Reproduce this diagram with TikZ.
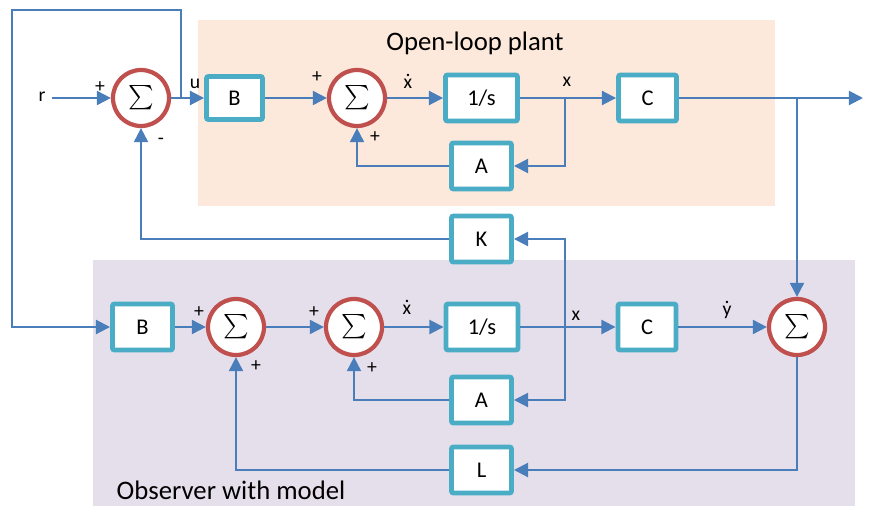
\documentclass[tikz,border=0pt]{standalone}
\usepackage{exscale}
\usepackage{fontspec}
\setmainfont{Carlito}
\usetikzlibrary{arrows.meta}

\definecolor{plantbg}{RGB}{252,233,219}
\definecolor{obsbg}{RGB}{229,223,236}
\definecolor{wireblue}{RGB}{74,126,187}
\definecolor{blockcyan}{RGB}{75,172,198}
\definecolor{sumred}{RGB}{192,80,77}

% letter with a dot on top (time derivative)
\newcommand{\dotsig}[1]{\ooalign{#1\cr\hidewidth\raisebox{0.62em}{.}\hidewidth\cr}}

\begin{document}
\begin{tikzpicture}[x=0.025cm, y=-0.025cm,
    block/.style={draw=blockcyan, line width=3.5pt, fill=white, rounded corners=1.5pt,
        minimum width=1.5cm, minimum height=1.15cm, font=\fontsize{16}{16}\selectfont},
    sumnode/.style={circle, draw=sumred, line width=3pt, fill=white,
        minimum size=1.4cm, inner sep=0pt, font=\fontsize{18}{18}\selectfont},
    wire/.style={draw=wireblue, line width=1.4pt, -{Triangle[length=10pt,width=10pt]}},
    sig/.style={font=\fontsize{14}{14}\selectfont}]

    % Fix the page size
    \useasboundingbox (0,0) rectangle (876,506);

    % Shaded regions
    \fill[plantbg] (198,20) rectangle (775,206);
    \fill[obsbg] (93,260) rectangle (855,506);
    \node at (475,43) [font=\fontsize{19}{19}\selectfont] {Open-loop plant};
    \node at (231,490) [font=\fontsize{19}{19}\selectfont] {Observer with model};

    % Plant row
    \node[sumnode] (S1) at (141,98) {$\sum$};
    \node[block, minimum width=1.4cm, minimum height=1.075cm] (B1) at (234.5,98) {B};
    \node[sumnode] (S2) at (357,98) {$\sum$};
    \node[block, minimum width=1.8cm] (I1) at (481.5,98) {1/s};
    \node[block, minimum width=1.45cm] (C1) at (647.5,98) {C};
    \node[block] (A1) at (481.5,166) {A};
    \node[block] (K) at (481.5,239) {K};

    % Observer row
    \node[block] (B2) at (142.5,327) {B};
    \node[sumnode] (S3) at (236,327) {$\sum$};
    \node[sumnode] (S4) at (354,327) {$\sum$};
    \node[block, minimum width=1.8cm] (I2) at (482,327) {1/s};
    \node[block, minimum width=1.45cm] (C2) at (647,327) {C};
    \node[sumnode] (S5) at (797,327) {$\sum$};
    \node[block] (A2) at (481.5,400) {A};
    \node[block] (L) at (481.5,470) {L};

    % Branch points and free ends
    \coordinate (r) at (52,98);
    \coordinate (u) at (181,98);
    \coordinate (ucorner) at (12,10);
    \coordinate (x1) at (565,98);
    \coordinate (y1) at (797,98);
    \coordinate (out) at (863,98);
    \coordinate (x2) at (565,327);

    % Plant connections
    \draw[wire] (r) -- (S1);
    \draw[wire] (S1) -- (B1);
    \draw[wire] (u) |- (ucorner) |- (B2);
    \draw[wire] (B1) -- (S2);
    \draw[wire] (S2) -- (I1);
    \draw[wire] (I1) -- (C1);
    \draw[wire] (x1) |- (A1);
    \draw[wire] (A1) -| (S2);
    \draw[wire] (C1) -- (out);
    \draw[wire] (y1) -- (S5);
    \draw[wire] (K) -| (S1);

    % Observer connections
    \draw[wire] (x2) |- (K);
    \draw[wire] (x2) |- (A2);
    \draw[wire] (B2) -- (S3);
    \draw[wire] (S3) -- (S4);
    \draw[wire] (S4) -- (I2);
    \draw[wire] (I2) -- (C2);
    \draw[wire] (C2) -- (S5);
    \draw[wire] (A2) -| (S4);
    \draw[wire] (S5) |- (L);
    \draw[wire] (L) -| (S3);

    % Signal labels
    \node at (42,97) [sig] {r};
    \node at (100,87) [sig] {+};
    \node at (161,141) [sig] {-};
    \node at (195,84) [sig] {u};
    \node at (317,77) [sig] {+};
    \node at (408,84) [sig] {\dotsig{x}};
    \node at (567,82) [sig] {x};
    \node at (375,137) [sig] {+};
    \node at (199,312) [sig] {+};
    \node at (314,312) [sig] {+};
    \node at (407,310) [sig] {\dotsig{x}};
    \node at (576,316) [sig] {x};
    \node at (727,311) [sig] {\dotsig{y}};
    \node at (372,368) [sig] {+};
    \node at (256,366) [sig] {+};

\end{tikzpicture}
\end{document}
